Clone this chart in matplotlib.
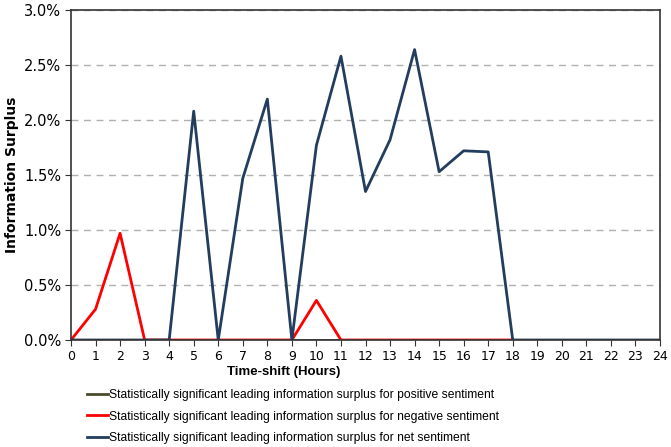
import matplotlib
matplotlib.use("Agg")
import matplotlib.pyplot as plt
from matplotlib.ticker import FuncFormatter, MultipleLocator

hours = list(range(25))
positive = [0.0] * 25
negative = [0.0, 0.28, 0.97, 0.0, 0.0, 0.0, 0.0, 0.0, 0.0, 0.0, 0.36, 0.0,
            0.0, 0.0, 0.0, 0.0, 0.0, 0.0, 0.0]
net = [0.0, 0.0, 0.0, 0.0, 0.0, 2.08, 0.0, 1.47, 2.19, 0.0, 1.77, 2.58,
       1.35, 1.82, 2.64, 1.53, 1.72, 1.71, 0.0, 0.0, 0.0, 0.0, 0.0, 0.0, 0.0]
labels = ["Statistically significant leading information surplus for positive sentiment",
          "Statistically significant leading information surplus for negative sentiment",
          "Statistically significant leading information surplus for net sentiment"]

narrow = 'Liberation Sans'

plt.rcParams['font.family'] = ['DejaVu Sans']
fig = plt.figure(figsize=(6.71, 4.47), dpi=100)
ax = fig.add_axes([71/671, 1-340/447, (660-71)/671, (340-10)/447])

ax.plot(hours[:len(positive)], positive, color='#4a4a2e', lw=2, label=labels[0])
ax.plot(hours[:len(negative)], negative, color='#ff0000', lw=2, label=labels[1])
ax.plot(hours[:len(net)], net, color='#233d5e', lw=2, label=labels[2])

ax.set_xlim(0, 24)
ax.set_ylim(0, 3.0)
ax.xaxis.set_major_locator(MultipleLocator(1))
ax.yaxis.set_major_locator(MultipleLocator(0.5))
ax.yaxis.set_major_formatter(FuncFormatter(lambda v, p: f"{v:.1f}%"))
ax.grid(axis='y', color='#b0b0b0', linestyle=(0, (5, 4)), lw=1)
ax.set_axisbelow(True)
ax.tick_params(axis='both', length=4, color='#333333', pad=3)
ax.tick_params(axis='y', labelsize=10.5)
ax.tick_params(axis='x', labelsize=9)
for s in ax.spines.values():
    s.set_color('#333333')
    s.set_linewidth(1.2)

ax.set_xlabel("Time-shift (Hours)", fontsize=9.5, fontweight='bold',
              family=narrow)
ax.xaxis.set_label_coords((284-71)/(660-71), -(372-340)/330)
ax.xaxis.label.set_va('center')
ax.set_ylabel("Information Surplus", fontsize=10, fontweight='bold')
ax.yaxis.set_label_coords(-(71-12)/(660-71), 0.5)
ax.yaxis.label.set_va('center')

fig.legend(loc='upper left', bbox_to_anchor=(87/671, 1-389/447), frameon=False,
           prop={'family': narrow, 'size': 8.7}, handlelength=1.7,
           handletextpad=0.15, labelspacing=0.8, borderaxespad=0, borderpad=0)

fig.savefig("out.png", dpi=100)
